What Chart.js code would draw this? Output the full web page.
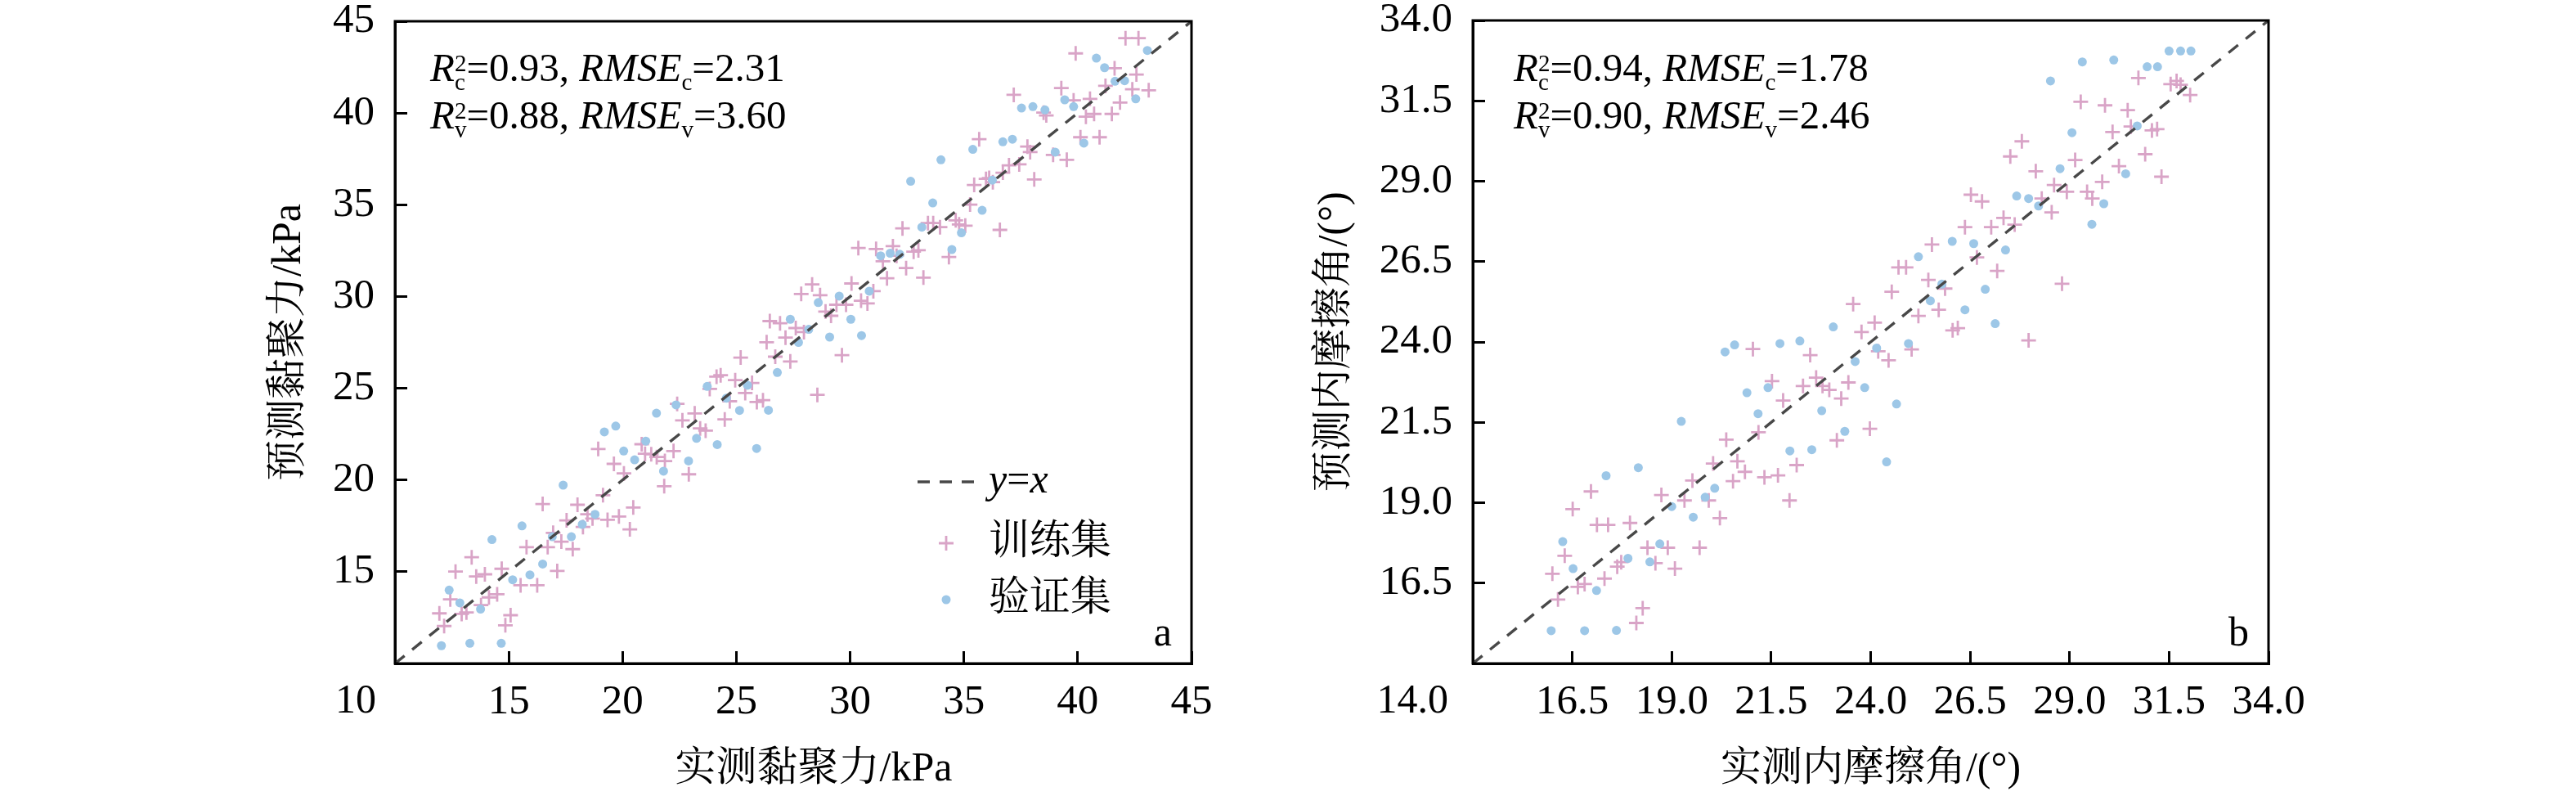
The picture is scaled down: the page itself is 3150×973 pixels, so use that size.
<!DOCTYPE html>
<html><head><meta charset="utf-8">
<script src="https://cdn.jsdelivr.net/npm/chart.js@4.4.1/dist/chart.umd.min.js"></script>
<style>
html,body{margin:0;padding:0;background:#fff;}
body{width:3150px;height:973px;position:relative;overflow:hidden;}
canvas{position:absolute;top:0;}
</style></head><body>
<canvas id="cA" width="1200" height="973" style="left:300px;width:1200px;height:973px"></canvas>
<canvas id="cB" width="1250" height="973" style="left:1600px;width:1250px;height:973px"></canvas>
<script>
// ---------- data ----------
const seriesLabels = ['y=x', '训练集', '验证集'];
const ticksA = [10, 15, 20, 25, 30, 35, 40, 45];
const ticksB = [14.0, 16.5, 19.0, 21.5, 24.0, 26.5, 29.0, 31.5, 34.0];
const statsA = ['0.93', '2.31', '0.88', '3.60'];
const statsB = ['0.94', '1.78', '0.90', '2.46'];
const titlesA = ['实测黏聚力/kPa', '预测黏聚力/kPa', 'a'];
const titlesB = ['实测内摩擦角/(°)', '预测内摩擦角/(°)', 'b'];

const trainA = [
[11.95,12.73],[12.16,12.04],[12.43,13.49],[12.66,15.01],[12.93,12.70],[13.14,12.78],[13.37,15.79],[13.57,14.74],
[13.95,14.86],[13.78,13.18],[14.13,13.60],[14.49,13.77],[14.69,15.16],[14.85,12.08],[15.08,12.63],[15.52,14.26],
[15.78,16.34],[16.25,14.26],[16.49,18.69],[16.71,16.34],[16.95,17.12],[17.13,15.04],[17.31,16.64],[17.54,17.80],
[17.81,16.23],[18.02,18.65],[18.26,17.44],[18.46,18.13],[18.68,17.90],[18.93,21.69],[19.14,19.17],[19.34,17.83],
[19.62,20.88],[19.84,18.01],[20.06,20.36],[20.32,17.31],[20.47,18.50],[20.84,21.95],[20.99,21.43],[21.26,21.40],
[21.50,21.25],[21.86,21.03],[22.24,21.58],[21.83,19.66],[22.40,24.15],[22.63,23.25],[22.91,20.31],[23.17,23.63],
[23.41,22.81],[23.65,22.69],[23.83,24.96],[24.13,25.63],[24.31,25.71],[24.49,23.30],[24.71,24.29],[24.95,25.44],
[25.19,26.67],[25.39,24.74],[25.69,25.29],[25.90,24.25],
[26.17,24.35],[26.33,27.51],[26.47,28.66],[26.71,26.72],[26.92,28.54],[27.16,27.76],[27.37,26.46],[27.61,28.28],
[27.85,30.14],[27.97,28.06],[28.33,30.66],[28.56,24.64],[28.68,30.07],[28.92,29.18],[29.16,28.95],[29.40,29.55],
[29.64,26.80],[29.82,29.55],[30.06,30.71],[30.48,29.77],[30.76,29.62],[31.02,30.29],[30.36,32.64],[31.14,32.59],
[31.44,31.92],[31.62,30.99],[31.88,32.74],[32.04,32.22],[32.46,31.55],[32.79,32.44],[33.00,32.52],[33.22,31.03],
[32.30,33.71],[33.42,34.00],[33.65,34.00],[33.95,33.78],[34.34,32.15],[34.64,34.15],[34.79,33.93],[35.06,33.86],
[35.27,35.01],[35.45,36.08],[35.67,38.57],[35.97,36.41],[36.11,36.46],[36.27,36.23],[36.58,33.63],[36.71,36.75],
[36.98,37.15],[37.43,37.20],[37.19,40.99],[37.79,38.17],[37.91,37.87],[38.09,36.38],[38.50,40.02],[38.62,39.87],
[38.92,37.72],[39.28,41.36],[39.52,37.45],[39.82,40.69],[39.91,43.25],[40.12,38.68],[40.36,39.80],[40.54,40.77],
[40.72,39.95],[40.96,38.68],[41.22,41.48],[41.50,39.95],[41.62,42.44],[41.86,40.57],[42.10,44.08],[42.40,41.29],
[42.58,42.10],[42.67,44.08],[43.12,41.24]
];
const valA = [
[12.04,10.97],[13.29,11.10],[14.67,11.10],[12.38,14.00],[12.85,13.30],[13.76,12.96],[14.26,16.75],[15.17,14.56],
[15.58,17.50],[15.93,14.83],[16.49,15.42],[16.91,16.91],[17.39,19.72],[17.75,16.91],[18.23,17.58],[18.79,18.13],
[19.20,22.62],[19.70,22.94],[20.05,21.58],[20.53,21.10],[21.02,22.12],[21.49,23.64],[21.80,20.48],[22.35,24.09],
[22.90,21.04],[23.25,22.27],[23.72,25.10],[24.16,21.93],[24.56,24.46],[25.14,23.79],[25.49,25.16],[25.89,21.72],
[26.41,23.80],[26.80,25.86],[27.37,28.76],[27.73,27.50],[28.18,28.21],[28.60,29.67],[29.10,27.79],[29.52,30.02],
[30.03,28.76],[30.50,27.87],[30.84,30.29],[31.34,32.22],[31.76,32.36],[32.18,32.30],[32.66,36.28],[33.15,33.78],
[33.63,35.10],[33.99,37.45],[34.47,32.56],[34.89,33.47],[35.39,38.02],[35.80,34.70],[36.25,36.34],[36.71,38.43],
[37.13,38.57],[37.53,40.27],[38.03,40.35],[38.56,40.17],[39.01,37.87],[39.43,40.72],[39.82,40.35],[40.27,38.36],
[40.82,42.99],[41.18,42.47],[41.64,41.73],[42.06,41.76],[42.55,40.77],[43.06,43.41]
];
const trainB = [
[16.00,16.79],[16.14,15.99],[16.31,17.35],[16.51,18.80],[16.64,16.38],[16.81,16.47],[16.97,19.35],[17.12,18.31],
[17.40,18.31],[17.31,16.64],[17.63,17.01],[17.73,17.15],[17.95,18.37],[18.11,15.26],[18.27,15.72],[18.39,17.60],
[18.59,17.12],[18.90,17.60],[19.08,16.95],[18.74,19.24],[19.32,19.07],[19.52,19.69],[19.70,17.60],[19.93,19.07],
[20.04,20.22],[20.21,18.52],[20.37,20.96],[20.54,19.67],[20.65,20.29],[20.84,19.96],[21.04,23.78],[21.18,21.19],
[21.33,19.79],[21.52,22.78],[21.67,19.85],[21.80,22.18],[21.96,19.07],[22.14,20.17],[22.30,22.63],[22.48,23.59],
[22.63,22.89],[22.79,22.63],[22.96,22.51],[23.15,20.94],[23.26,22.24],[23.44,22.74],[23.56,25.18],[23.77,24.31],
[23.98,21.30],
[24.10,24.60],[24.19,23.71],[24.45,23.43],[24.53,25.56],[25.03,23.77],[25.20,24.81],[24.70,26.32],[24.89,26.32],
[25.45,25.93],[25.54,27.03],[25.71,25.00],[25.87,25.66],[26.06,24.36],[26.19,24.43],[26.37,27.57],[26.52,28.58],
[26.67,26.63],[26.80,28.37],[27.03,27.57],[27.18,26.21],[27.34,27.86],[27.51,29.77],[27.62,27.65],[27.80,30.24],
[27.97,24.05],[28.15,29.31],[28.30,28.46],[28.55,28.03],[28.61,28.88],[28.81,25.81],[28.93,28.67],[29.14,29.66],
[29.28,31.47],[29.44,28.67],[29.57,28.46],[29.82,28.98],[29.89,31.36],[30.08,30.53],[30.24,29.47],[30.46,31.21],
[30.54,30.70],[30.73,32.21],[30.90,29.84],[31.07,30.58],[31.20,30.62],[31.31,29.14],[31.54,32.02],[31.69,32.12],
[31.79,32.00],[32.03,31.68]
];
const valB = [
[15.97,15.02],[16.81,15.02],[17.61,15.03],[16.26,17.79],[16.52,16.95],[17.11,16.27],[17.35,19.84],[17.90,17.27],
[18.16,20.09],[18.45,17.16],[18.70,17.72],[19.00,18.88],[19.24,21.53],[19.54,18.55],[19.84,19.17],[20.08,19.45],
[20.34,23.69],[20.58,23.91],[20.89,22.42],[21.17,21.77],[21.42,22.58],[21.72,23.95],[21.97,20.61],[22.22,24.03],
[22.52,20.65],[22.77,21.86],[23.06,24.47],[23.35,21.22],[23.61,23.39],[23.85,22.58],[24.40,20.27],[24.65,22.07],
[24.15,23.81],[24.95,23.95],[25.20,26.65],[25.50,25.28],[25.79,25.80],[26.05,27.13],[26.37,25.00],[26.59,27.06],
[26.88,25.64],[27.13,24.57],[27.39,26.86],[27.67,28.54],[27.97,28.46],[28.22,28.23],[28.52,32.12],[28.76,29.39],
[29.06,30.51],[29.32,32.71],[29.56,27.66],[29.86,28.30],[30.11,32.77],[30.41,29.23],[30.70,30.72],[30.95,32.56],
[31.21,32.56],[31.50,33.05],[31.79,33.05],[32.05,33.05]
];

// ---------- style ----------
const SERIF = "'Liberation Serif','Times New Roman',serif";
const CJK = "'Liberation Serif','Noto Serif CJK SC','Noto Sans CJK SC',serif";
const PINK = 'rgb(217,164,199)', BLUE = 'rgb(157,199,231)', DLINE = 'rgb(72,72,72)';
const CANVAS_H = 973, PLOT_BOTTOM = 811;

function richLine(ctx, x, y, parts, size) {
  ctx.textAlign = 'left'; ctx.textBaseline = 'alphabetic'; ctx.fillStyle = '#000';
  const small = Math.round(size * 0.6);
  for (const p of parts) {
    if (p.stack) {
      ctx.font = `${small}px ${SERIF}`;
      const w = Math.max(ctx.measureText(p.stack[0]).width, ctx.measureText(p.stack[1]).width);
      ctx.fillText(p.stack[0], x, y - size * 0.25);
      ctx.fillText(p.stack[1], x, y + size * 0.23);
      x += w;
    } else if (p.sub) {
      ctx.font = `${small}px ${SERIF}`;
      ctx.fillText(p.t, x, y + size * 0.23);
      x += ctx.measureText(p.t).width;
    } else {
      ctx.font = `${p.it ? 'italic ' : ''}${size}px ${SERIF}`;
      ctx.fillText(p.t, x, y);
      x += ctx.measureText(p.t).width;
    }
  }
}

function statParts(r2, rm, s) {
  return [{t:'R', it:true}, {stack:['2', s]}, {t:'=' + r2 + ', '}, {t:'RMSE', it:true}, {t:s, sub:true}, {t:'=' + rm}];
}

function makeChart(cfg) {
  const decorPlugin = {
    id: 'decor',
    afterDraw(chart) {
      const {ctx, chartArea: a} = chart;
      ctx.save();
      ctx.strokeStyle = '#000'; ctx.lineWidth = 3;
      ctx.strokeRect(a.left, a.top, a.right - a.left, a.bottom - a.top);
      // corner tick label (axis minimum)
      ctx.fillStyle = '#000';
      ctx.font = `50px ${SERIF}`;
      ctx.textAlign = 'right'; ctx.textBaseline = 'middle';
      ctx.fillText(cfg.fmt(cfg.ticks[0]), a.left - cfg.cornerGap, PLOT_BOTTOM + 47);
      // statistics
      richLine(ctx, a.left + cfg.statX, 99, statParts(cfg.stats[0], cfg.stats[1], 'c'), 49);
      richLine(ctx, a.left + cfg.statX, 157, statParts(cfg.stats[2], cfg.stats[3], 'v'), 49);
      // panel letter
      ctx.font = `50px ${SERIF}`; ctx.textAlign = 'right'; ctx.textBaseline = 'alphabetic';
      ctx.fillText(cfg.titles[2], a.right - 24, a.bottom - 22);
      // legend
      if (cfg.legend) {
        const lx = cfg.legend.x, tx = cfg.legend.tx;
        ctx.strokeStyle = DLINE; ctx.lineWidth = 3.4; ctx.setLineDash([15, 12]);
        ctx.beginPath(); ctx.moveTo(lx - 35, cfg.legend.y[0]); ctx.lineTo(lx + 36, cfg.legend.y[0]); ctx.stroke();
        ctx.setLineDash([]);
        ctx.strokeStyle = PINK; ctx.lineWidth = 2.8;
        ctx.beginPath();
        ctx.moveTo(lx - 9, cfg.legend.y[1]); ctx.lineTo(lx + 9, cfg.legend.y[1]);
        ctx.moveTo(lx, cfg.legend.y[1] - 9); ctx.lineTo(lx, cfg.legend.y[1] + 9);
        ctx.stroke();
        ctx.fillStyle = BLUE;
        ctx.beginPath(); ctx.arc(lx, cfg.legend.y[2], 5.5, 0, Math.PI * 2); ctx.fill();
        ctx.fillStyle = '#000'; ctx.textAlign = 'left'; ctx.textBaseline = 'middle';
        // y=x
        const lbl = seriesLabels[0];
        let x = tx;
        for (const ch of lbl) {
          ctx.font = `${ch === '=' ? '' : 'italic '}50px ${SERIF}`;
          ctx.fillText(ch, x, cfg.legend.y[0]);
          x += ctx.measureText(ch).width;
        }
        ctx.font = `50px ${CJK}`;
        ctx.fillText(seriesLabels[1], tx, cfg.legend.y[1]);
        ctx.fillText(seriesLabels[2], tx, cfg.legend.y[2]);
      }
      ctx.restore();
    }
  };

  const tickFont = {family: SERIF, size: 51, lineHeight: 1.2};
  const titleFont = {family: CJK, size: 50, lineHeight: 1.2};
  const resetPad = s => { s.paddingLeft = 0; s.paddingRight = 0; s.paddingTop = 0; s.paddingBottom = 0; };
  const setTicks = s => { s.ticks = cfg.ticks.map(v => ({value: v})); };
  const lab = v => (v === cfg.ticks[0] ? '' : cfg.fmt(v));
  const grid = {drawOnChartArea: false, drawTicks: true, tickLength: -15, tickWidth: 3, tickColor: '#000'};
  const border = {display: true, color: '#000', width: 3};
  const lo = cfg.ticks[0], hi = cfg.ticks[cfg.ticks.length - 1];

  return new Chart(document.getElementById(cfg.id), {
    type: 'scatter',
    data: {
      datasets: [
        {type: 'line', label: seriesLabels[0], data: [{x: lo, y: lo}, {x: hi, y: hi}],
         borderColor: DLINE, borderWidth: 3.4, borderDash: [15, 12], pointRadius: 0, fill: false, order: 0},
        {label: seriesLabels[2], data: cfg.val.map(p => ({x: p[0], y: p[1]})),
         pointStyle: 'circle', pointRadius: 5.5, backgroundColor: BLUE, borderWidth: 0, order: 1},
        {label: seriesLabels[1], data: cfg.train.map(p => ({x: p[0], y: p[1]})),
         pointStyle: 'cross', pointRadius: 9, borderColor: PINK, backgroundColor: PINK, borderWidth: 2.8, order: 2}
      ]
    },
    options: {
      responsive: false, animation: false, devicePixelRatio: 1,
      layout: {padding: {left: 0, top: cfg.padTop, right: cfg.padRight, bottom: 0}},
      plugins: {legend: {display: false}, tooltip: {enabled: false}},
      scales: {
        x: {
          type: 'linear', position: 'bottom', min: lo, max: hi,
          afterBuildTicks: setTicks,
          ticks: {callback: lab, font: tickFont, color: '#000', padding: 32, maxRotation: 0, autoSkip: false},
          grid, border,
          title: {display: true, text: cfg.xTitleLead + cfg.titles[0], font: titleFont, color: '#000', padding: {top: 0, bottom: 2}},
          afterFit: s => { s.height = CANVAS_H - PLOT_BOTTOM; resetPad(s); }
        },
        y: {
          type: 'linear', position: 'left', min: lo, max: hi,
          afterBuildTicks: setTicks,
          ticks: {callback: lab, font: tickFont, color: '#000', padding: 40, autoSkip: false},
          grid, border,
          title: {display: true, text: cfg.titles[1], font: titleFont, color: '#000', padding: {top: cfg.yTitlePad, bottom: 0}},
          afterFit: s => { s.width = cfg.axisW; resetPad(s); }
        }
      }
    },
    plugins: [decorPlugin]
  });
}

makeChart({
  id: 'cA', ticks: ticksA, fmt: v => String(v), train: trainA, val: valA, stats: statsA, titles: titlesA,
  padTop: 26, padRight: 43, axisW: 183, yTitlePad: 24, cornerGap: 23, statX: 43, xTitleLead: '\u2002\u2002',
  legend: {x: 857, tx: 909, y: [589, 664, 733]}
});
makeChart({
  id: 'cB', ticks: ticksB, fmt: v => v.toFixed(1), train: trainB, val: valB, stats: statsB, titles: titlesB,
  padTop: 25, padRight: 76, axisW: 201, yTitlePad: 3, cornerGap: 30, statX: 50, xTitleLead: '',
  legend: null
});
</script></body></html>
